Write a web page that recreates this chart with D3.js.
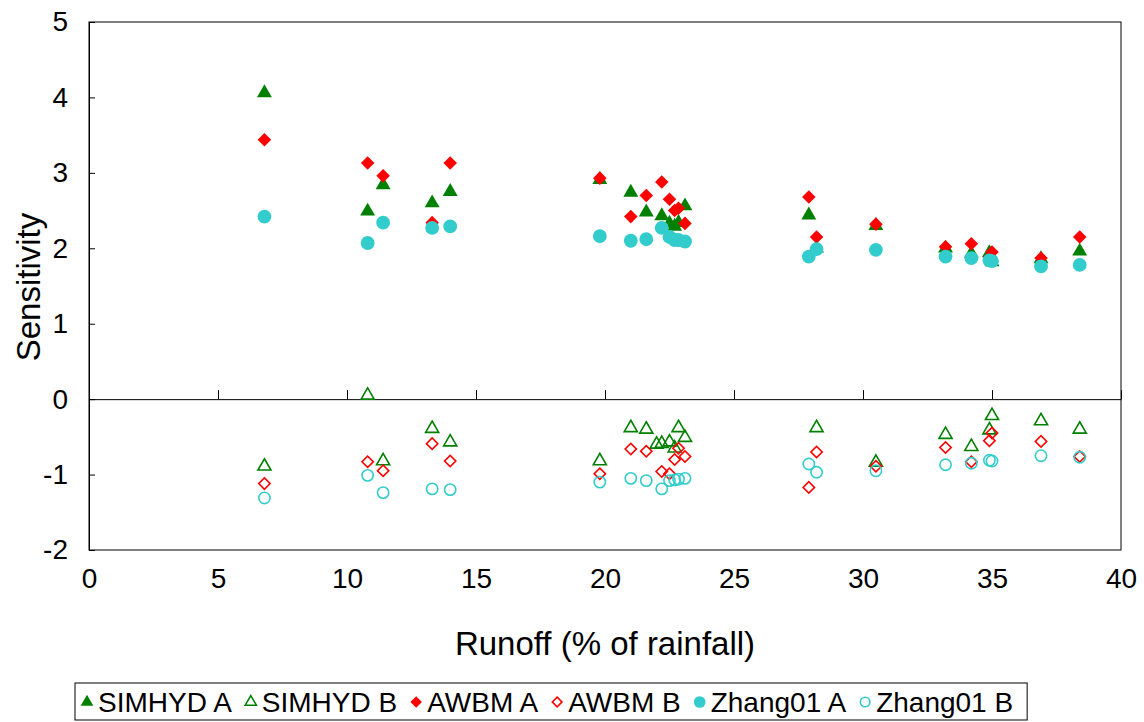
<!DOCTYPE html>
<html>
<head>
<meta charset="utf-8">
<script src="https://cdn.jsdelivr.net/npm/d3@7"></script>
<style>
  body { margin: 0; background: #fff; }
  text { font-family: "Liberation Sans", Arial, sans-serif; fill: #000; }
</style>
</head>
<body>
<div id="chart"></div>
<script>
// runoff (% of rainfall) for each catchment
var runoff = [6.8, 10.8, 11.4, 13.3, 14.0, 19.8, 21.0, 21.6, 22.0, 22.2, 22.5, 22.7, 22.85, 23.1,
              27.9, 28.2, 30.5, 33.2, 34.2, 34.9, 35.0, 36.9, 38.4];

var simhydA = [4.06, 2.49, 2.84, 2.60, 2.75, 2.91, 2.74, 2.48, null, 2.43, 2.33, 2.29, 2.34, 2.56,
               2.44, 2.00, 2.30, 2.00, 1.93, 1.94, 1.82, 1.86, 1.96];
var simhydB = [-0.89, 0.05, -0.82, -0.39, -0.57, -0.82, -0.38, -0.40, -0.60, -0.59, -0.57, -0.65, -0.38, -0.51,
               null, -0.38, -0.84, -0.47, -0.63, -0.41, -0.22, -0.29, -0.40];
var awbmA = [3.44, 3.13, 2.96, 2.34, 3.13, 2.93, 2.42, 2.70, null, 2.88, 2.65, 2.50, 2.53, 2.33,
             2.68, 2.15, 2.32, 2.02, 2.06, 1.88, 1.95, 1.87, 2.15];
var awbmB = [-1.12, -0.83, -0.95, -0.59, -0.82, -0.99, -0.66, -0.69, null, -0.96, -0.99, -0.80, -0.65, -0.76,
             -1.17, -0.70, -0.89, -0.64, -0.83, -0.55, -0.45, -0.56, -0.76];
var zhangA = [2.42, 2.07, 2.34, 2.27, 2.29, 2.16, 2.10, 2.12, null, 2.27, 2.15, 2.11, 2.11, 2.09,
              1.89, 1.99, 1.98, 1.89, 1.87, 1.84, 1.83, 1.76, 1.78];
var zhangB = [-1.31, -1.01, -1.24, -1.19, -1.20, -1.10, -1.05, -1.08, null, -1.19, -1.08, -1.07, -1.06, -1.05,
              -0.86, -0.97, -0.95, -0.87, -0.85, -0.81, -0.82, -0.75, -0.77];

var xTicks = [0, 5, 10, 15, 20, 25, 30, 35, 40];
var yTicks = [-2, -1, 0, 1, 2, 3, 4, 5];

var green = "#008000", red = "#ff0000", teal = "#33cccc";

var series = [
    {name: "SIMHYD A", values: simhydA, shape: "triangle", filled: true, color: green},
    {name: "SIMHYD B", values: simhydB, shape: "triangle", filled: false, color: green},
    {name: "AWBM A", values: awbmA, shape: "diamond", filled: true, color: red},
    {name: "AWBM B", values: awbmB, shape: "diamond", filled: false, color: red},
    {name: "Zhang01 A", values: zhangA, shape: "circle", filled: true, color: teal},
    {name: "Zhang01 B", values: zhangB, shape: "circle", filled: false, color: teal}
];

var width = 1144, height = 722;
var plotLeft = 89, plotRight = 1121, plotTop = 22, plotBottom = 550;

var svg = d3.select("#chart").append("svg")
    .attr("width", width)
    .attr("height", height);

var x = d3.scaleLinear().domain([0, 40]).range([plotLeft, plotRight]);
var y = d3.scaleLinear().domain([-2, 5]).range([plotBottom, plotTop]);

// plain hyphen minus like the original
var tickFmt = function(d){ return String(d); };

// plot frame
svg.append("rect")
    .attr("x", plotLeft).attr("y", plotTop)
    .attr("width", plotRight - plotLeft).attr("height", plotBottom - plotTop)
    .attr("fill", "none").attr("stroke", "#000").attr("stroke-width", 1);

// zero line with inward ticks
svg.append("g")
    .attr("transform", "translate(0," + y(0) + ")")
    .call(d3.axisBottom(x).tickValues(xTicks).tickSize(-9).tickSizeOuter(0).tickFormat(""))
    .call(function(g){ g.selectAll("path, line").attr("stroke", "#000"); });

// y axis
svg.append("g")
    .attr("transform", "translate(" + plotLeft + ",0)")
    .call(d3.axisLeft(y).tickValues(yTicks).tickSize(-6).tickSizeOuter(0).tickPadding(21).tickFormat(tickFmt))
    .call(function(g){
        g.selectAll("path, line").attr("stroke", "#000");
        g.selectAll("text").attr("font-size", "28px").attr("font-family", null);
    });

// x tick labels along the bottom
svg.append("g")
    .attr("transform", "translate(0," + plotBottom + ")")
    .call(d3.axisBottom(x).tickValues(xTicks).tickSize(0).tickPadding(18).tickFormat(tickFmt))
    .call(function(g){
        g.select(".domain").remove();
        g.selectAll("text").attr("font-size", "28px").attr("font-family", null);
    });

svg.append("text")
    .attr("x", (plotLeft + plotRight) / 2).attr("y", 655)
    .attr("text-anchor", "middle")
    .attr("font-size", "33px")
    .text("Runoff (% of rainfall)");

svg.append("text")
    .attr("transform", "translate(40," + 287 + ") rotate(-90)")
    .attr("text-anchor", "middle")
    .attr("font-size", "33px")
    .text("Sensitivity");

function markerPath(shape, filled, scale) {
    var s = scale || 1;
    if (shape === "triangle") return d3.symbol(d3.symbolTriangle, (filled ? 96 : 74) * s * s)();
    if (shape === "diamond") return d3.symbol(d3.symbolSquare, (filled ? 92 : 64) * s * s)();
    return d3.symbol(d3.symbolCircle, (filled ? 150 : 100) * s * s)();
}

function styleMarker(sel, d) {
    sel.attr("fill", d.filled ? d.color : "none")
        .attr("stroke", d.filled ? "none" : d.color)
        .attr("stroke-width", d.filled ? 0 : 1.6);
}

series.forEach(function(d){
    var pts = runoff.map(function(r, i){ return {x: r, y: d.values[i]}; })
        .filter(function(p){ return p.y !== null; });
    svg.append("g").selectAll("path")
        .data(pts)
        .enter().append("path")
        .attr("d", markerPath(d.shape, d.filled))
        .attr("transform", function(p){
            return "translate(" + x(p.x) + "," + y(p.y) + ")" + (d.shape === "diamond" ? " rotate(45)" : "");
        })
        .call(styleMarker, d);
});

// legend
var legend = svg.append("g");
var legendBox = legend.append("rect")
    .attr("x", 75).attr("y", 683).attr("height", 37)
    .attr("fill", "#fff").attr("stroke", "#000").attr("stroke-width", 1);

var lx = 87;
series.forEach(function(d){
    legend.append("path")
        .attr("d", markerPath(d.shape, d.filled, 0.85))
        .attr("transform", "translate(" + lx + ",702)" + (d.shape === "diamond" ? " rotate(45)" : ""))
        .call(styleMarker, d);
    var t = legend.append("text")
        .attr("x", lx + 11).attr("y", 712)
        .attr("font-size", "28px")
        .text(d.name);
    lx += 11 + t.node().getComputedTextLength() + 19;
});
legendBox.attr("width", lx - 19 + 14 - 75);
</script>
</body>
</html>
